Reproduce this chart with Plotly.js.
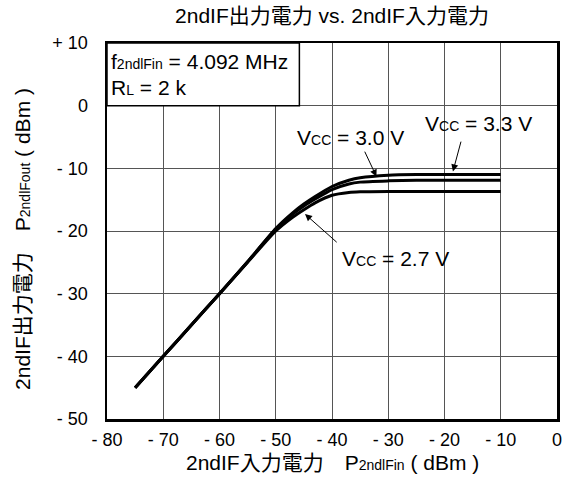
<!DOCTYPE html>
<html>
<head>
<meta charset="utf-8">
<script src="https://cdn.plot.ly/plotly-3.0.1.min.js"></script>
<style>html,body{margin:0;padding:0;background:#fff;}#chart{width:565px;height:504px;}</style>
</head>
<body>
<div id="chart"></div>
<script>
// Input power (dBm)
const pin = [-75, -70, -65, -60, -55, -50, -47, -45, -43, -40, -37, -35, -30, -25, -20, -15, -10];
// Output power (dBm) for each supply voltage
const pout33 = [-45, -40, -35, -30, -24.9, -19.6, -17.1, -15.7, -14.5, -12.9, -11.9, -11.5, -11.1, -11.0, -11.0, -11.0, -11.0];
const pout30 = [-45, -40, -35, -30, -24.9, -19.7, -17.3, -16.0, -14.9, -13.4, -12.5, -12.2, -12.0, -11.9, -11.9, -11.9, -11.9];
const pout27 = [-45, -40, -35, -30, -25.0, -20.0, -17.8, -16.6, -15.5, -14.3, -13.85, -13.75, -13.7, -13.7, -13.7, -13.7, -13.7];

const xTickVals = [-80, -70, -60, -50, -40, -30, -20, -10, 0];
const xTickText = ['- 80', '- 70', '- 60', '- 50', '- 40', '- 30', '- 20', '- 10', '0'];
const yTickVals = [10, 0, -10, -20, -30, -40, -50];
const yTickText = ['+ 10', '0', '- 10', '- 20', '- 30', '- 40', '- 50'];

const FONT = 'Liberation Sans, Arial, Noto Sans CJK JP, sans-serif';
const sm = (t, s) => '<span style="font-size:' + (s || 14) + 'px">' + t + '</span>';

const mk = y => ({x: pin, y: y, type: 'scatter', mode: 'lines',
  line: {color: '#000', width: 3, shape: 'spline', smoothing: 0.6}, hoverinfo: 'skip', showlegend: false});

const data = [mk(pout33), mk(pout30), mk(pout27)];

const tfont = {family: FONT, size: 21, color: '#000'};
const arrowStyle = {showarrow: true, arrowhead: 2, arrowsize: 1.4, arrowwidth: 1, arrowcolor: '#000'};
const annotations = [
  {xref: 'x', yref: 'y', x: -79.7, y: 7.0, xanchor: 'left', yanchor: 'middle', showarrow: false,
   text: 'f' + sm('2ndlFin') + ' = 4.092 MHz', font: tfont},
  {xref: 'x', yref: 'y', x: -79.7, y: 2.9, xanchor: 'left', yanchor: 'middle', showarrow: false,
   text: 'R' + sm('L') + ' = 2 k', font: tfont},
  {xref: 'x', yref: 'y', x: -36.8, y: -5.0, showarrow: false, text: 'V' + sm('CC') + ' = 3.0 V', font: tfont},
  {xref: 'x', yref: 'y', x: -13.9, y: -2.8, showarrow: false, text: 'V' + sm('CC') + ' = 3.3 V', font: tfont},
  {xref: 'x', yref: 'y', x: -28.8, y: -24.4, showarrow: false, text: 'V' + sm('CC') + ' = 2.7 V', font: tfont},
  // arrows
  Object.assign({xref: 'x', yref: 'y', axref: 'x', ayref: 'y', x: -32.1, y: -11.3, ax: -34.3, ay: -7.1, text: ''}, arrowStyle),
  Object.assign({xref: 'x', yref: 'y', axref: 'x', ayref: 'y', x: -18.5, y: -10.5, ax: -17.0, ay: -5.5, text: ''}, arrowStyle),
  Object.assign({xref: 'x', yref: 'y', axref: 'x', ayref: 'y', x: -44.8, y: -17.3, ax: -38.9, ay: -22.0, text: ''}, arrowStyle),
  // axis titles
  {xref: 'paper', yref: 'paper', x: 0.5, y: -0.117, xanchor: 'center', yanchor: 'middle', showarrow: false,
   text: '2ndIF入力電力　P' + sm('2ndlFin') + ' ( dBm )', font: {family: FONT, size: 21, color: '#000'}},
  {xref: 'paper', yref: 'paper', x: -0.188, y: 0.48, xanchor: 'center', yanchor: 'middle', showarrow: false, textangle: -90,
   text: '2ndIF出力電力　P' + sm('2ndlFout') + ' ( dBm )', font: {family: FONT, size: 21, color: '#000'}}
];

const layout = {
  width: 565, height: 504,
  margin: {l: 106.5, r: 8, t: 43, b: 85, pad: 0},
  paper_bgcolor: '#fff', plot_bgcolor: '#fff',
  font: {family: FONT, size: 18, color: '#000'},
  title: {text: '2ndIF出力電力 vs. 2ndIF入力電力', x: 0.5, xref: 'paper', y: 0.968, yanchor: 'middle',
    font: {family: FONT, size: 21, color: '#000'}},
  xaxis: {range: [-80, 0], tickvals: xTickVals, ticktext: xTickText, showgrid: true, gridcolor: '#555', gridwidth: 1,
    zeroline: false, showline: true, mirror: true, linecolor: '#000', linewidth: 2.5, ticks: '', ticklabelstandoff: 3,
    tickfont: {family: FONT, size: 18, color: '#000'}, fixedrange: true},
  yaxis: {range: [-50, 10], tickvals: yTickVals, ticktext: yTickText, showgrid: true, gridcolor: '#555', gridwidth: 1,
    zeroline: false, showline: true, mirror: true, linecolor: '#000', linewidth: 2.5, ticks: '', ticklabelstandoff: 13,
    tickfont: {family: FONT, size: 18, color: '#000'}, fixedrange: true},
  shapes: [
    {type: 'rect', xref: 'x', yref: 'y', x0: -80, x1: -45.8, y0: 0, y1: 10, layer: 'above',
     fillcolor: '#fff', line: {color: '#000', width: 1.5}}
  ],
  annotations: annotations
};

Plotly.newPlot('chart', data, layout, {staticPlot: true, displayModeBar: false});
</script>
</body>
</html>
